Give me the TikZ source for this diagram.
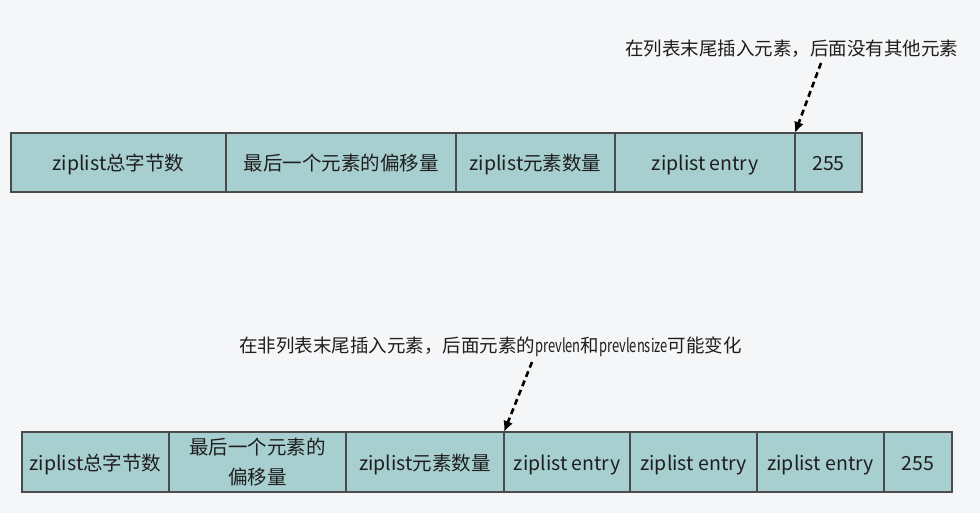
\documentclass[tikz,border=0pt]{standalone}
\usepackage{graphicx}
\usepackage{fontspec}
\setmainfont{Noto Sans CJK SC}
\usetikzlibrary{positioning,arrows.meta}
\definecolor{bgcol}{HTML}{F5F6F8}
\definecolor{cellfill}{HTML}{A8CFD0}
\definecolor{cellline}{HTML}{4A4A4A}
\definecolor{txtcol}{HTML}{1E1E1E}
\newcommand{\narrowlat}[1]{\scalebox{0.7}[1]{#1}}
\tikzset{node distance=0pt, auto,
  cell/.style={draw=cellline, line width=1.1pt, fill=cellfill, text=txtcol,
    minimum height=#1, inner sep=1pt, outer sep=0pt, align=center,
    font=\fontsize{19.5}{30}\selectfont},
  cell/.default=59pt,
  oneline/.style={text height=19pt, text depth=2pt},
  note/.style={text=txtcol, inner sep=0pt, font=\fontsize{18.5}{22}\selectfont},
  pointer/.style={-{Latex[length=11pt,width=10pt]}, line width=2.6pt,
    dash pattern=on 6pt off 4pt}
}

\begin{document}
\begin{tikzpicture}[x=1pt, y=-1pt]
\fill[bgcol] (0,0) rectangle (980,513);
\useasboundingbox (0,0) rectangle (980,513);

% tail insert
\node[cell, oneline, minimum width=215pt, anchor=west] (tbytes) at (11,162.5) {ziplist总字节数};
\node[cell, oneline, minimum width=230pt, right=of tbytes] (ttail) {最后一个元素的偏移量};
\node[cell, oneline, minimum width=159pt, right=of ttail] (tlen) {ziplist元素数量};
\node[cell, oneline, minimum width=180pt, right=of tlen] (tentry) {ziplist entry};
\node[cell, oneline, minimum width=67pt, right=of tentry] (tend) {255};

\node[note] (note1) at (791.5,49) {在列表末尾插入元素，后面没有其他元素};
\coordinate (from1) at (821,63);
\draw[pointer] (from1) -- (tentry.north east);

% middle insert
\node[cell=60pt, oneline, minimum width=147pt, anchor=west] (bbytes) at (22,462) {ziplist总字节数};
\node[cell=60pt, minimum width=177pt, right=of bbytes] (btail) {最后一个元素的\\偏移量};
\node[cell=60pt, oneline, minimum width=158pt, right=of btail] (blen) {ziplist元素数量};
\node[cell=60pt, oneline, minimum width=126pt, right=of blen] (bentry1) {ziplist entry};
\node[cell=60pt, oneline, minimum width=127pt, right=of bentry1] (bentry2) {ziplist entry};
\node[cell=60pt, oneline, minimum width=127pt, right=of bentry2] (bentry3) {ziplist entry};
\node[cell=60pt, oneline, minimum width=68pt, right=of bentry3] (bend) {255};

\node[note] (note2) at (490.5,347) {在非列表末尾插入元素，后面元素的\narrowlat{prevlen}和\narrowlat{prevlensize}可能变化};
\coordinate (from2) at (532,362);
\draw[pointer] (from2) -- (blen.north east);
\end{tikzpicture}
\end{document}
